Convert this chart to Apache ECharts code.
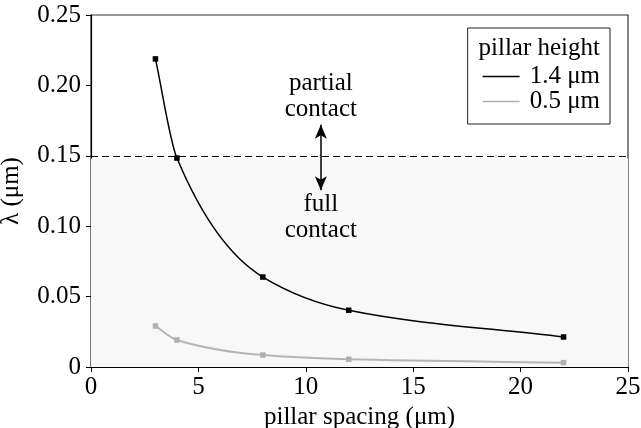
<!DOCTYPE html>
<html><head><meta charset="utf-8">
<script src="https://cdn.jsdelivr.net/npm/echarts@6/dist/echarts.min.js"></script>
<style>html,body{margin:0;padding:0;background:#fff}#c{width:641px;height:428px}</style>
</head><body><div id="c"></div>
<script>
const spacing = [3, 4, 8, 12, 22];
const lambdaTall = [0.2188, 0.1484, 0.0639, 0.0403, 0.0213];
const lambdaShort = [0.0291, 0.0192, 0.0085, 0.0055, 0.0031];
const threshold = 0.148;
const xTicks = [0, 5, 10, 15, 20, 25];
const yTicks = [0, 0.05, 0.10, 0.15, 0.20, 0.25];
const seriesNames = ['1.4 μm', '0.5 μm'];
const arrowX = 10.7, arrowTop = 0.172, arrowBottom = 0.1255;

const F = 'Liberation Serif, Times New Roman, serif';
const FS = 25;
const BLACK = '#000', GREY = '#b5b5b5';
const chart = echarts.init(document.getElementById('c'));
const pts = (ys) => spacing.map((x, i) => [x, ys[i]]);

// smooth monotone cubic path through the data points, in pixel space via the axis scales
function curvePath(ys, api) {
  const P = spacing.map((x, i) => api.coord([x, ys[i]]));
  const n = P.length, d = [], m = [];
  for (let i = 0; i < n - 1; i++) d.push((P[i + 1][1] - P[i][1]) / (P[i + 1][0] - P[i][0]));
  m[0] = d[0]; m[n - 1] = d[n - 2];
  for (let i = 1; i < n - 1; i++) {
    const h0 = P[i][0] - P[i - 1][0], h1 = P[i + 1][0] - P[i][0];
    if (d[i - 1] * d[i] <= 0) m[i] = 0;
    else { const w1 = 2 * h1 + h0, w2 = h1 + 2 * h0; m[i] = (w1 + w2) / (w1 / d[i - 1] + w2 / d[i]); }
  }
  let s = 'M' + P[0][0] + ',' + P[0][1];
  for (let i = 0; i < n - 1; i++) {
    const h = (P[i + 1][0] - P[i][0]) / 3;
    s += 'C' + (P[i][0] + h) + ',' + (P[i][1] + m[i] * h) + ',' + (P[i + 1][0] - h) + ',' + (P[i + 1][1] - m[i + 1] * h) + ',' + P[i + 1][0] + ',' + P[i + 1][1];
  }
  return s;
}
function curveSeries(ys, color, width) {
  return {
    type: 'custom', silent: true, z: 3, data: [[spacing[0], ys[0]]],
    renderItem: (params, api) => ({type: 'path', shape: {pathData: curvePath(ys, api)},
      style: {stroke: color, fill: 'none', lineWidth: width}})
  };
}

chart.setOption({
  animation: false,
  grid: {left: 91, right: 13, top: 15, bottom: 61, outerBoundsMode: 'none', containLabel: false,
    show: true, borderColor: '#333', borderWidth: 1.2, backgroundColor: 'transparent'},
  xAxis: {
    type: 'value', min: 0, max: 25, interval: 5,
    axisLine: {lineStyle: {color: '#000', width: 1.2}},
    axisTick: {length: 5, lineStyle: {color: '#000'}},
    splitLine: {show: false},
    axisLabel: {fontFamily: F, fontSize: FS, color: '#000', margin: 8, formatter: v => xTicks.includes(v) ? String(v) : ''},
    name: 'pillar spacing (μm)', nameLocation: 'middle', nameGap: 35,
    nameTextStyle: {fontFamily: F, fontSize: FS, color: '#000'}
  },
  yAxis: {
    type: 'value', min: 0, max: 0.25, interval: 0.05,
    axisLine: {show: true, lineStyle: {color: '#000', width: 1.2}},
    axisTick: {show: true, length: 5, lineStyle: {color: '#000'}},
    splitLine: {show: false},
    axisLabel: {fontFamily: F, fontSize: FS, color: '#000', margin: 10,
      formatter: v => { const t = yTicks.find(y => Math.abs(y - v) < 1e-9); return t === undefined ? '' : (t === 0 ? '0' : t.toFixed(2)); }},
    name: 'λ (μm)', nameLocation: 'middle', nameGap: 67, nameRotate: 90,
    nameTextStyle: {fontFamily: F, fontSize: FS, color: '#000'}
  },
  legend: {
    right: 31, top: 28, orient: 'vertical', data: seriesNames,
    icon: 'rect', itemWidth: 37, itemHeight: 1.5, itemGap: 0,
    padding: [36, 10, 10, 15], borderColor: '#222', borderWidth: 1,
    textStyle: {fontFamily: F, fontSize: FS, color: '#000', padding: [0, 0, 0, 5], lineHeight: 25}
  },
  graphic: [{type: 'text', right: 41, top: 36, style: {text: 'pillar height', fontFamily: F, fontSize: FS, fill: '#000'}}],
  series: [
    {
      name: 'shade', type: 'line', data: [], silent: true,
      markArea: {silent: true, itemStyle: {color: '#f8f8f8'}, data: [[{yAxis: 0}, {yAxis: threshold}]]},
      markLine: {silent: true, symbol: 'none', label: {show: false},
        lineStyle: {color: '#000', type: [7, 4], width: 1}, data: [{yAxis: threshold}]}
    },
    {
      name: 'arrow', type: 'line', data: [], silent: true,
      markLine: {silent: true, symbol: ['arrow', 'arrow'], symbolSize: [9, 14], label: {show: false},
        lineStyle: {color: '#000', type: 'solid', width: 1.5},
        data: [[{coord: [arrowX, arrowBottom]}, {coord: [arrowX, arrowTop]}]]},
      markPoint: {silent: true, symbol: 'rect', symbolSize: 0,
        label: {show: true, fontFamily: F, fontSize: FS, color: '#000', lineHeight: 26, align: 'center'},
        data: [
          {coord: [arrowX, 0.192], value: 'partial\ncontact', label: {formatter: 'partial\ncontact'}},
          {coord: [arrowX, 0.1065], value: 'full\ncontact', label: {formatter: 'full\ncontact'}}
        ]}
    },
    curveSeries(lambdaTall, BLACK, 1.5),
    curveSeries(lambdaShort, GREY, 2),
    {
      name: seriesNames[0], type: 'line', data: pts(lambdaTall),
      symbol: 'rect', symbolSize: 5.5, showSymbol: true,
      lineStyle: {opacity: 0}, itemStyle: {color: BLACK}, z: 5
    },
    {
      name: seriesNames[1], type: 'line', data: pts(lambdaShort),
      symbol: 'rect', symbolSize: 5.5, showSymbol: true,
      lineStyle: {opacity: 0}, itemStyle: {color: '#b0b0b0'}, z: 4
    }
  ]
});
</script></body></html>
